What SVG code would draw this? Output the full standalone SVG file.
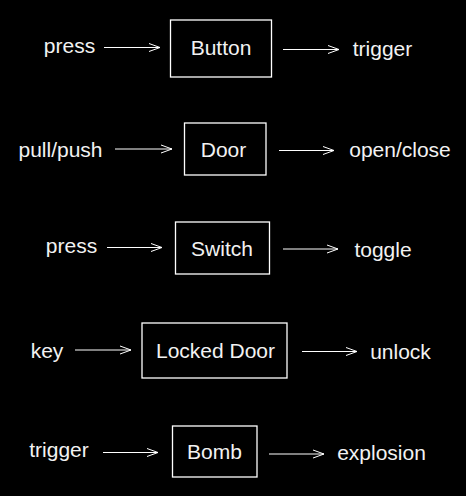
<svg xmlns="http://www.w3.org/2000/svg" width="466" height="496" viewBox="0 0 466 496">
<style>
text{font-family:"Liberation Sans",Arial,sans-serif;font-size:21px;fill:#f2f2f2;text-anchor:middle}
.box{fill:none;stroke:#fff;stroke-width:1.3}
.arr{fill:none;stroke:#fff;stroke-width:1;marker-end:url(#ah)}
</style>
<defs>
<marker id="ah" markerUnits="userSpaceOnUse" markerWidth="14" markerHeight="12" refX="11" refY="5" orient="auto" viewBox="0 0 14 12">
<polyline points="0,1 11,5 0,9" fill="none" stroke="#fff" stroke-width="1"/>
</marker>
</defs>
<rect width="466" height="496" fill="#000"/>
<g id="connectors">
<line class="arr" x1="104" y1="47.5" x2="160" y2="47.5"/>
<line class="arr" x1="283" y1="49.5" x2="339" y2="49.5"/>
<line class="arr" x1="115" y1="149" x2="172" y2="149"/>
<line class="arr" x1="279" y1="150.5" x2="334" y2="150.5"/>
<line class="arr" x1="107" y1="247.5" x2="162" y2="247.5"/>
<line class="arr" x1="283" y1="249" x2="338" y2="249"/>
<line class="arr" x1="75" y1="350" x2="131" y2="350"/>
<line class="arr" x1="302" y1="351.5" x2="357" y2="351.5"/>
<line class="arr" x1="103" y1="452.5" x2="158" y2="452.5"/>
<line class="arr" x1="269" y1="454" x2="324" y2="454"/>
</g>
<g id="labels">
<text x="69.5" y="53">press</text>
<text x="382.5" y="56">trigger</text>
<text x="60.5" y="157">pull/push</text>
<text x="400" y="157">open/close</text>
<text x="71.5" y="253">press</text>
<text x="383" y="256.5">toggle</text>
<text x="47" y="358">key</text>
<text x="400.5" y="359">unlock</text>
<text x="59" y="457">trigger</text>
<text x="381.5" y="460">explosion</text>
</g>
<g id="button"><rect class="box" x="170.5" y="20" width="101" height="57"/><text x="221" y="55">Button</text></g>
<g id="door"><rect class="box" x="184.5" y="123" width="81.5" height="52"/><text x="223.5" y="157">Door</text></g>
<g id="switch"><rect class="box" x="175.5" y="222" width="94" height="52"/><text x="222" y="255.5">Switch</text></g>
<g id="locked-door"><rect class="box" x="142" y="323" width="145" height="55"/><text x="215.5" y="358">Locked Door</text></g>
<g id="bomb"><rect class="box" x="172.5" y="426" width="84.5" height="51"/><text x="214.5" y="459">Bomb</text></g>
</svg>
